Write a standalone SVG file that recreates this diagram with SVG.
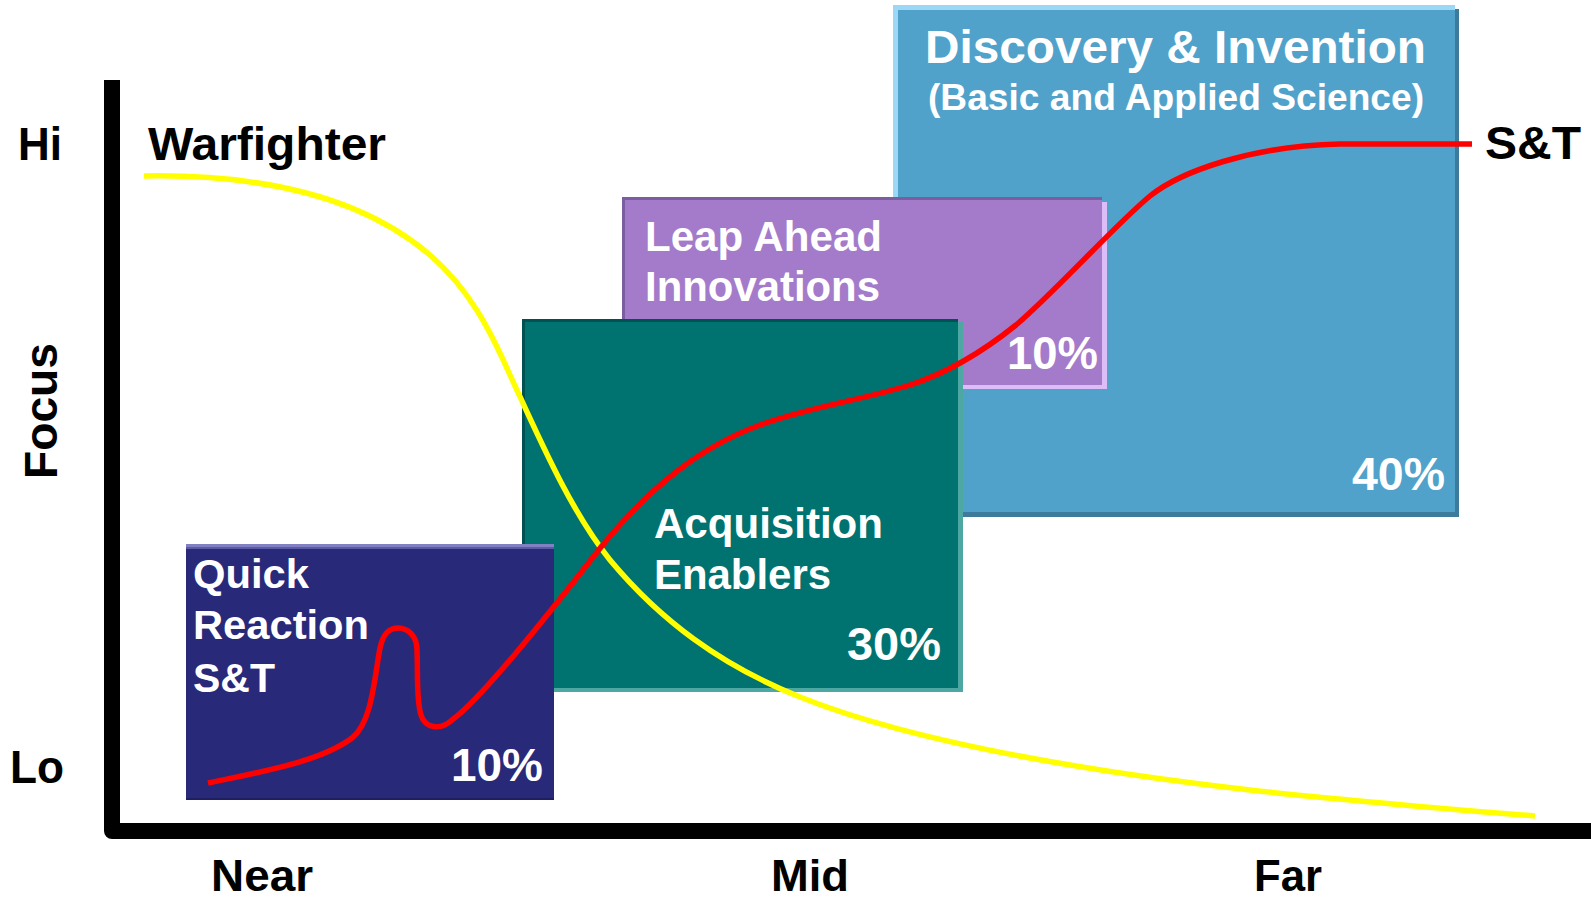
<svg xmlns="http://www.w3.org/2000/svg" width="1591" height="901" viewBox="0 0 1591 901">
<style>
  text { font-family: "Liberation Sans", Arial, sans-serif; font-weight: bold; }
  .ax { fill: #000000; font-size: 46px; }
  .axb { fill: #000000; font-size: 44px; }
  .wt { fill: #ffffff; }
  .pct { font-size: 47px; }
  .lbl42 { font-size: 42px; }
  .curve { fill: none; stroke-width: 5.5; stroke-linecap: butt; stroke-linejoin: round; }
</style>
<rect x="0" y="0" width="1591" height="901" fill="#ffffff"/>

<g id="discovery">
  <rect x="897" y="9" width="562" height="508" fill="#3D7B9D"/>
  <rect x="893" y="5" width="562" height="507" fill="#9DD7F6"/>
  <rect x="898" y="10" width="557" height="502" fill="#51A2CA"/>
  <text class="wt" x="925" y="63" font-size="46" textLength="501" lengthAdjust="spacingAndGlyphs">Discovery &amp; Invention</text>
  <text class="wt" x="928" y="110" font-size="36" textLength="496" lengthAdjust="spacingAndGlyphs">(Basic and Applied Science)</text>
  <text class="wt pct" x="1352" y="490" textLength="93" lengthAdjust="spacingAndGlyphs">40%</text>
</g>

<g id="leap">
  <rect x="627" y="202" width="480" height="187" fill="#DCBDF7"/>
  <rect x="622" y="197" width="480" height="188" fill="#7B5E9F"/>
  <rect x="625" y="200" width="477" height="185" fill="#A37BCA"/>
  <text class="wt lbl42" x="645" y="251" textLength="237" lengthAdjust="spacingAndGlyphs">Leap Ahead</text>
  <text class="wt lbl42" x="645" y="301" textLength="235" lengthAdjust="spacingAndGlyphs">Innovations</text>
  <text class="wt pct" x="1007" y="369" textLength="91" lengthAdjust="spacingAndGlyphs">10%</text>
</g>

<g id="acquisition">
  <rect x="525" y="322" width="438" height="370" fill="#4DA8A4"/>
  <rect x="522" y="319" width="436" height="369" fill="#005252"/>
  <rect x="525" y="322" width="433" height="366" fill="#007370"/>
  <text class="wt lbl42" x="654" y="538" textLength="229" lengthAdjust="spacingAndGlyphs">Acquisition</text>
  <text class="wt lbl42" x="654" y="589" textLength="177" lengthAdjust="spacingAndGlyphs">Enablers</text>
  <text class="wt pct" x="847" y="660" textLength="94" lengthAdjust="spacingAndGlyphs">30%</text>
</g>

<g id="quick">
  <rect x="186" y="544" width="368" height="256" fill="#29297A"/>
  <rect x="186" y="544" width="368" height="3" fill="#8080C2"/>
  <rect x="186" y="547" width="368" height="2" fill="#5A5AA6"/>
  <rect x="186" y="798" width="368" height="2" fill="#1E1E60"/>
  <text class="wt" x="193" y="588" font-size="41" textLength="116" lengthAdjust="spacingAndGlyphs">Quick</text>
  <text class="wt" x="193" y="639" font-size="41" textLength="176" lengthAdjust="spacingAndGlyphs">Reaction</text>
  <text class="wt" x="193" y="692" font-size="41" textLength="82" lengthAdjust="spacingAndGlyphs">S&amp;T</text>
  <text class="wt pct" x="451" y="781" textLength="92" lengthAdjust="spacingAndGlyphs">10%</text>
</g>

<g id="connectors">
  <path id="warfighter-curve" class="curve" stroke="#FFFF00" d="M144,176 C260,174 360,195 430,255 C470,290 490,330 510,375 C540,440 570,510 610,560 C660,620 720,665 800,697 C900,737 1050,767 1250,790 C1350,801 1450,809 1535,816"/>
  <path id="st-curve" class="curve" stroke="#FF0000" d="M208,783 C260,772 320,762 352,738 C372,722 374,680 380,648 C384,630 392,628 398,628 C408,628 417,636 417,650 C418,670 416,700 421,715 C425,728 440,731 452,720 C480,700 540,625 601,547 C650,487 700,447 760,425 C810,407 870,398 910,385 C950,372 985,350 1016,325 C1055,292 1115,225 1150,196 C1180,172 1250,146 1340,144 L1472,144"/>
</g>

<g id="axes">
  <path d="M112,80 V831 H1600" fill="none" stroke="#000000" stroke-width="16" stroke-linejoin="round"/>
  <text class="ax" x="18" y="160" textLength="44" lengthAdjust="spacingAndGlyphs">Hi</text>
  <text class="ax" x="10" y="783" textLength="54" lengthAdjust="spacingAndGlyphs">Lo</text>
  <text class="ax" transform="translate(57,411) rotate(-90)" text-anchor="middle" textLength="136" lengthAdjust="spacingAndGlyphs">Focus</text>
  <text class="axb" x="211" y="891" textLength="102" lengthAdjust="spacingAndGlyphs">Near</text>
  <text class="axb" x="771" y="891" textLength="78" lengthAdjust="spacingAndGlyphs">Mid</text>
  <text class="axb" x="1254" y="891" textLength="68" lengthAdjust="spacingAndGlyphs">Far</text>
</g>

<g id="series-labels">
  <text class="ax" x="148" y="160" textLength="238" lengthAdjust="spacingAndGlyphs">Warfighter</text>
  <text class="ax" x="1485" y="159" textLength="96" lengthAdjust="spacingAndGlyphs">S&amp;T</text>
</g>
</svg>
